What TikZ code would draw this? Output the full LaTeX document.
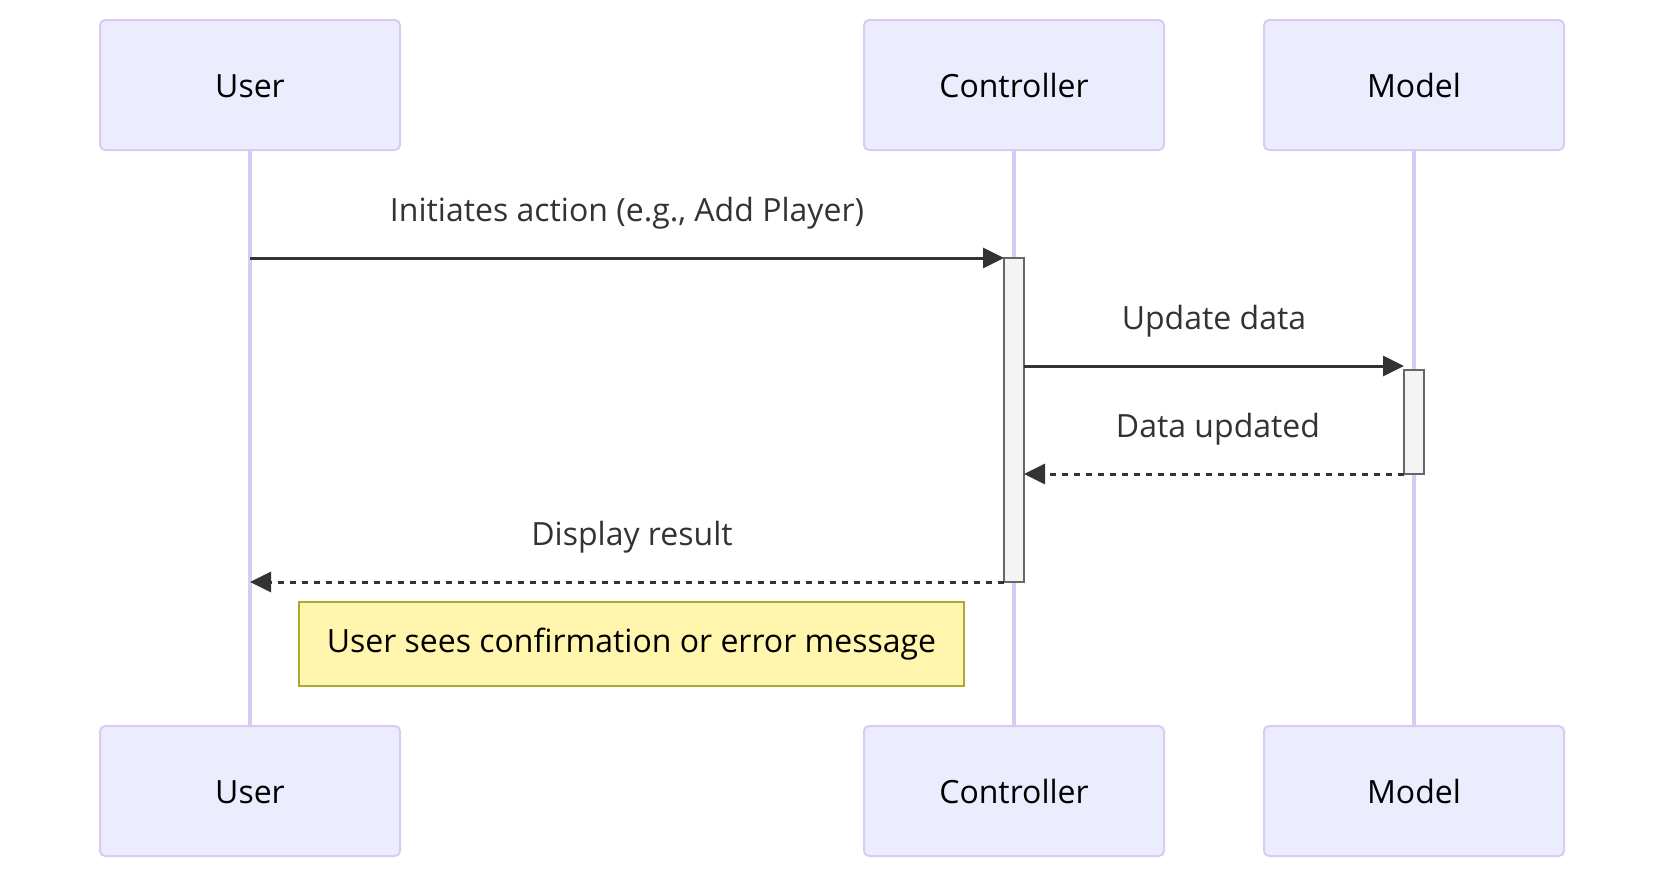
\documentclass[tikz,border=0pt]{standalone}
\usepackage{fontspec}
\setmainfont{Open Sans}
\usetikzlibrary{arrows.meta}
\definecolor{actfill}{HTML}{ECECFF}
\definecolor{actline}{HTML}{D9CCF4}
\definecolor{msgcol}{HTML}{333333}
\definecolor{barfill}{HTML}{F4F4F4}
\definecolor{barline}{HTML}{666666}
\definecolor{notefill}{HTML}{FFF5AD}
\definecolor{noteline}{HTML}{AAAA33}
\tikzset{
  actor/.style={draw=actline, fill=actfill, line width=2pt, rounded corners=5pt,
    minimum width=300pt, minimum height=130pt, inner sep=0pt,
    font=\fontsize{32}{38}\selectfont, text=black, text height=24pt, text depth=0pt},
  lifeline/.style={draw=actline, line width=4pt},
  actbar/.style={draw=barline, fill=barfill, line width=2pt, minimum width=20pt, inner sep=0pt, outer sep=0pt},
  msg/.style={draw=msgcol, line width=3pt, -{Triangle[length=21pt,width=20pt]}},
  reply/.style={msg, dash pattern=on 6pt off 6pt},
  msglabel/.style={anchor=base, font=\fontsize{32}{38}\selectfont, text=msgcol, inner sep=0pt},
  notebox/.style={draw=noteline, fill=notefill, line width=2pt, minimum width=665pt, minimum height=84pt,
    inner sep=0pt, font=\fontsize{32}{38}\selectfont, text=black, text height=23pt, text depth=7pt}
}
\begin{document}
\begin{tikzpicture}[x=1pt,y=-1pt]
\useasboundingbox (0,0) rectangle (1664,878);
% actors
\node[actor] (userT) at (250,85) {User};
\node[actor] (ctrlT) at (1014,85) {Controller};
\node[actor] (modelT) at (1414,85) {Model};
\node[actor] (userB) at (250,791) {User};
\node[actor] (ctrlB) at (1014,791) {Controller};
\node[actor] (modelB) at (1414,791) {Model};
% lifelines
\draw[lifeline] (userT.south) -- (userB.north);
\draw[lifeline] (ctrlT.south) -- (ctrlB.north);
\draw[lifeline] (modelT.south) -- (modelB.north);
% activations
\node[actbar, minimum height=324pt, anchor=north] (ctrlAct) at (1014,258) {};
\node[actbar, minimum height=104pt, anchor=north] (modelAct) at (1414,370) {};
% message endpoints on lifelines
\coordinate (u1) at (userT.south |- ctrlAct.north);
\coordinate (u4) at (userT.south |- ctrlAct.south);
\coordinate (c2) at (ctrlAct.east |- 0,366);
\coordinate (m2) at (modelAct.west |- 0,366);
\coordinate (c3) at (ctrlAct.east |- modelAct.south);
% messages
\draw[msg] (u1) -- (ctrlAct.north west);
\node[msglabel] (l1) at (627,221) {Initiates action (e.g., Add Player)};
\draw[msg] (c2) -- (m2);
\node[msglabel] (l2) at (1214,329) {Update data};
\draw[reply] (modelAct.south west) -- (c3);
\node[msglabel] (l3) at (1218,437) {Data updated};
\draw[reply] (ctrlAct.south west) -- (u4);
\node[msglabel] (l4) at (632,545) {Display result};
% note
\node[notebox] (note) at (631.5,644) {User sees confirmation or error message};
\end{tikzpicture}
\end{document}
